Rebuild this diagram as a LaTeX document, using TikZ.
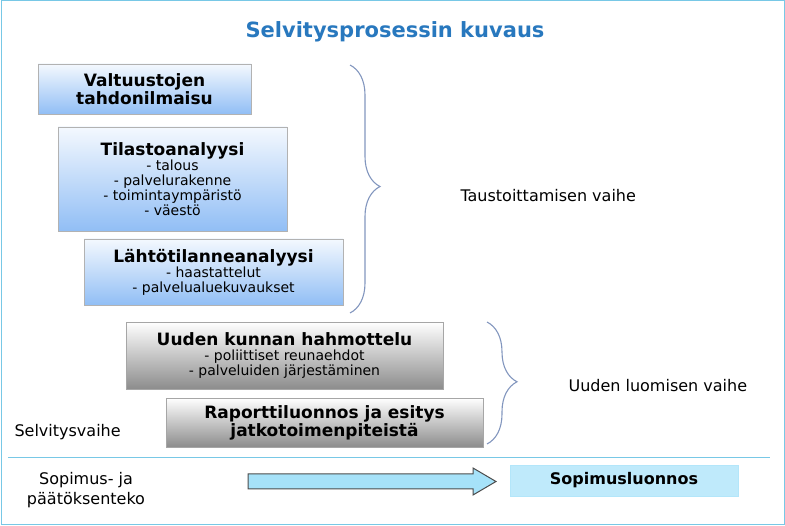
\documentclass[tikz,border=0pt]{standalone}
\usepackage{fontspec}
\setmainfont{DejaVu Sans}
\usetikzlibrary{decorations.pathreplacing}
\definecolor{titleblue}{RGB}{40,120,190}
\definecolor{frameblue}{RGB}{120,200,230}
\definecolor{boxbot}{RGB}{145,190,245}
\definecolor{bracecol}{RGB}{130,150,190}
\tikzset{
 bluebox/.style={draw=gray!60, top color=white!90!boxbot, bottom color=boxbot, align=center, font=\fontsize{14}{15}\selectfont, inner sep=2pt},
 graybox/.style={draw=gray!70, top color=white, bottom color=black!45, align=center, font=\fontsize{14}{15}\selectfont, inner sep=2pt},
 bracestyle/.style={decorate, decoration={brace, amplitude=30pt, aspect=0.49}, draw=bracecol, line width=1.1pt},
 lbl/.style={font=\fontsize{16}{18}\selectfont, anchor=west}
}
\newcommand{\hdt}[1]{{\fontsize{17}{19}\selectfont\bfseries #1}}
\begin{document}
\begin{tikzpicture}[x=1pt,y=-1pt]
\useasboundingbox (0,0) rectangle (785,526);
\draw[frameblue, line width=1pt] (1,1) rectangle (784,525);
\node[font=\fontsize{21}{23}\selectfont\bfseries, text=titleblue] (title) at (395,32) {Selvitysprosessin kuvaus};
\node[bluebox, minimum width=213pt, minimum height=50pt] (b1) at (144.5,89) {\hdt{Valtuustojen}\\\hdt{tahdonilmaisu}};
\node[bluebox, minimum width=229pt, minimum height=104pt] (b2) at (172.5,179) {\hdt{Tilastoanalyysi}\\- talous\\- palvelurakenne\\- toimintaympäristö\\- väestö};
\node[bluebox, minimum width=259pt, minimum height=66pt] (b3) at (213.5,272) {\hdt{Lähtötilanneanalyysi}\\- haastattelut\\- palvelualuekuvaukset};
\node[graybox, minimum width=317pt, minimum height=67pt] (b4) at (284.5,355.5) {\hdt{Uuden kunnan hahmottelu}\\- poliittiset reunaehdot\\- palveluiden järjestäminen};
\node[graybox, minimum width=317pt, minimum height=49pt] (b5) at (324.5,422.5) {\hdt{Raporttiluonnos ja esitys}\\\hdt{jatkotoimenpiteistä}};
\coordinate (br1a) at (350,65); \coordinate (br1b) at (350,313);
\draw[bracestyle] (br1a) -- (br1b);
\node[lbl] (l1) at (457,196) {Taustoittamisen vaihe};
\coordinate (br2a) at (487,322); \coordinate (br2b) at (487,444);
\draw[bracestyle] (br2a) -- (br2b);
\node[lbl] (l2) at (565,386) {Uuden luomisen vaihe};
\node[lbl] (sv) at (11,432) {Selvitysvaihe};
\coordinate (s1) at (8,457); \coordinate (s2) at (770,457);
\draw[frameblue, line width=0.8pt] (s1) -- (s2);
\node[font=\fontsize{16}{20}\selectfont, align=center] (sp) at (86,490) {Sopimus- ja\\päätöksenteko};
\draw[draw=black!70, fill=cyan!35, line width=1pt] (248,474) -- (473,474) -- (473,468) -- (496,481.5) -- (473,495) -- (473,489) -- (248,489) -- cycle;
\node[draw=cyan!30, fill=cyan!25, minimum width=228pt, minimum height=31pt, font=\fontsize{16}{18}\selectfont\bfseries] (sl) at (624,480.5) {Sopimusluonnos};
\end{tikzpicture}
\end{document}
